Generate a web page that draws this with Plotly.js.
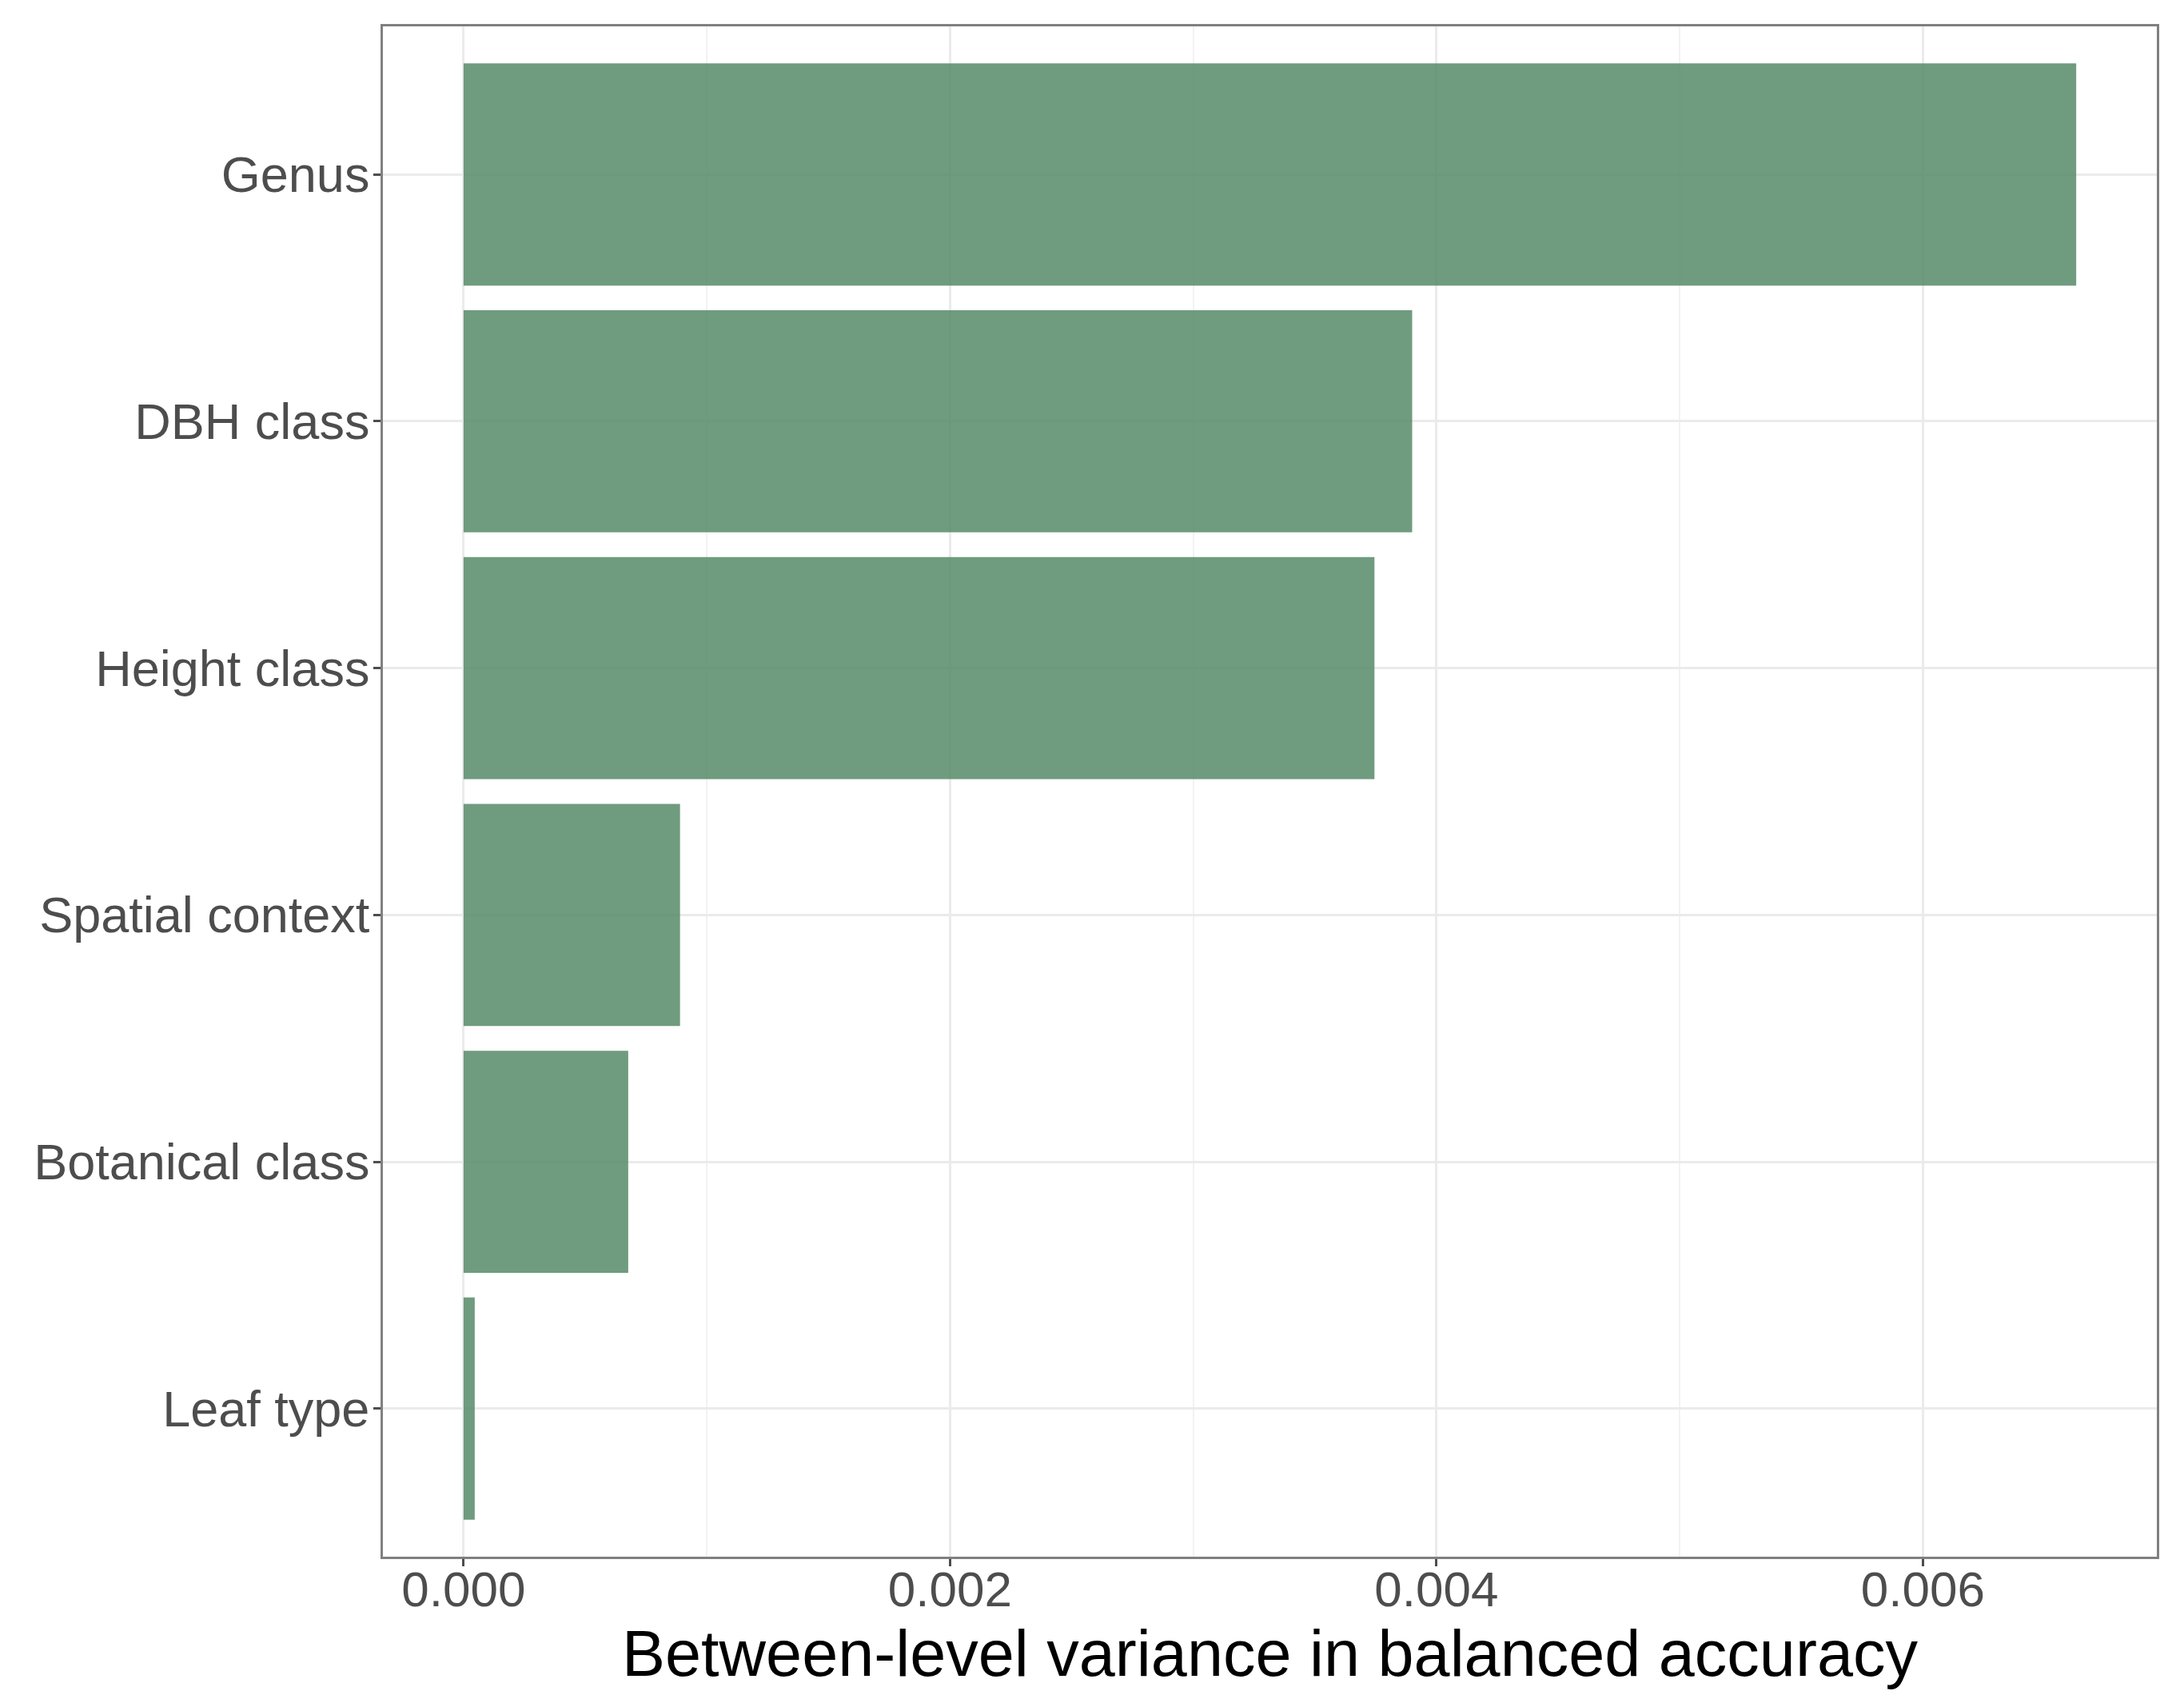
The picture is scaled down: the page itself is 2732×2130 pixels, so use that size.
<!DOCTYPE html>
<html>
<head>
<meta charset="utf-8">
<script src="https://cdn.plot.ly/plotly-3.0.1.min.js"></script>
<style>
  html, body { margin: 0; padding: 0; background: #ffffff; }
  #chart { width: 2732px; height: 2130px; }
</style>
</head>
<body>
<div id="chart"></div>
<script>
var categories = ["Genus", "DBH class", "Height class", "Spatial context", "Botanical class", "Leaf type"];
var variance = [0.00663, 0.00390, 0.003745, 0.00089, 0.000677, 0.000046];
var tickValues = [0, 0.002, 0.004, 0.006];
var tickLabels = ["0.000", "0.002", "0.004", "0.006"];

var FONT = "Liberation Sans, Arial, sans-serif";

var trace = {
  type: "bar",
  orientation: "h",
  x: variance,
  y: categories,
  width: 0.9,
  marker: { color: "rgba(86,137,104,0.85)", line: { width: 0 } },
  hoverinfo: "x+y"
};

var maxVal = Math.max.apply(null, variance);
var pad = maxVal * 0.05;

var layout = {
  width: 2732,
  height: 2130,
  margin: { l: 479, r: 34, t: 33, b: 183, pad: 0 },
  paper_bgcolor: "#ffffff",
  plot_bgcolor: "#ffffff",
  showlegend: false,
  xaxis: {
    range: [-pad, maxVal + pad],
    tickvals: tickValues,
    ticktext: tickLabels,
    ticks: "outside",
    ticklen: 9,
    tickwidth: 3,
    tickcolor: "#4d4d4d",
    ticklabelstandoff: -24,
    tickfont: { family: FONT, size: 62, color: "#4d4d4d" },
    showgrid: true,
    gridcolor: "#ebebeb",
    gridwidth: 3,
    minor: { dtick: 0.001, tick0: 0, showgrid: true, gridcolor: "#f2f2f2", gridwidth: 1.5, ticks: "" },
    zeroline: false,
    showline: true,
    linecolor: "#808080",
    linewidth: 3,
    mirror: true,
    title: { text: "Between-level variance in balanced accuracy", font: { family: FONT, size: 81, color: "#000000" }, standoff: 18 }
  },
  yaxis: {
    type: "category",
    categoryorder: "array",
    categoryarray: categories,
    range: [categories.length - 0.4, -0.6],
    ticks: "outside",
    ticklen: 9,
    tickwidth: 3,
    tickcolor: "#4d4d4d",
    ticklabelstandoff: -8,
    tickfont: { family: FONT, size: 63, color: "#4d4d4d" },
    showgrid: true,
    gridcolor: "#ebebeb",
    gridwidth: 3,
    zeroline: false,
    showline: true,
    linecolor: "#808080",
    linewidth: 3,
    mirror: true
  }
};

Plotly.newPlot("chart", [trace], layout, { displayModeBar: false, responsive: false });
</script>
</body>
</html>
